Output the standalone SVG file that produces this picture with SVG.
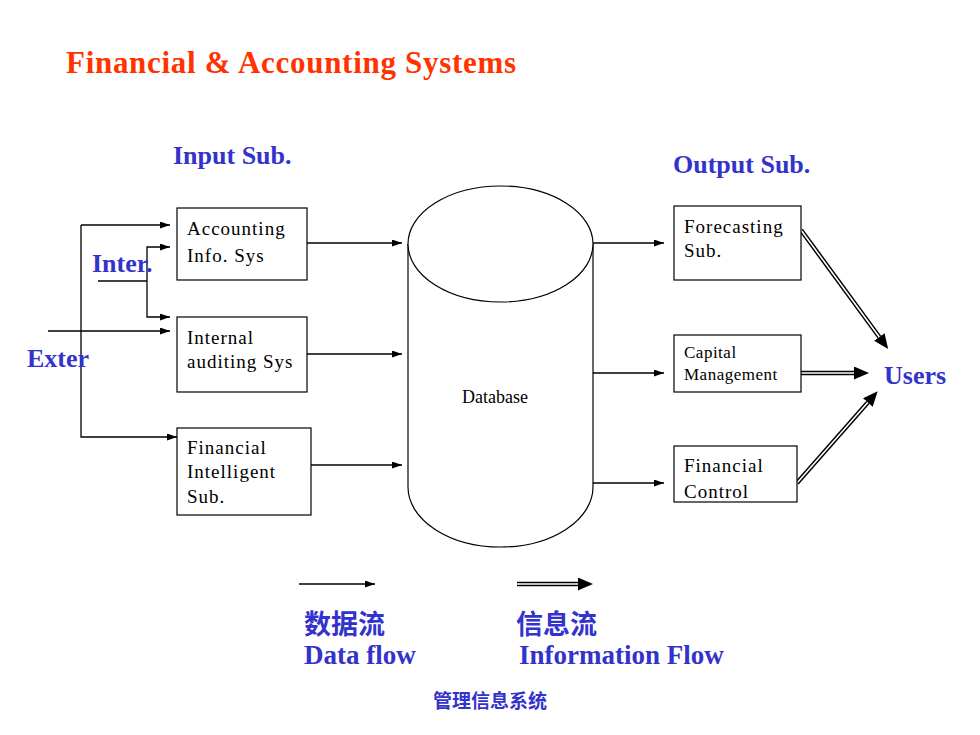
<svg xmlns="http://www.w3.org/2000/svg" width="980" height="735" viewBox="0 0 980 735">
<style>
.box{fill:#fff;stroke:#000;stroke-width:1.2}
.t{font-family:"Liberation Serif","Times New Roman",serif;font-size:19px;letter-spacing:1px;fill:#000}
.ts{font-family:"Liberation Serif","Times New Roman",serif;font-size:17px;letter-spacing:0.5px;fill:#000}
.lbl{font-family:"Liberation Serif","Times New Roman",serif;font-weight:bold;font-size:26px;fill:#3333CC}
.cjk{font-family:"Noto Sans CJK SC",sans-serif;font-weight:bold;fill:#3333CC}
.df{fill:none;stroke:#000;stroke-width:1.3;marker-end:url(#ah)}
.ln{fill:none;stroke:#000;stroke-width:1.3}
.ifo{fill:none;stroke:#000;stroke-width:4.5;marker-end:url(#ah2)}
.ifi{fill:none;stroke:#fff;stroke-width:1.6}
</style>
<defs>
<marker id="ah" markerUnits="userSpaceOnUse" markerWidth="11" markerHeight="8" refX="10" refY="3.5" orient="auto">
<path d="M0,0 L10,3.5 L0,7 z" fill="#000"/>
</marker>
<marker id="ah2" markerUnits="userSpaceOnUse" markerWidth="16" markerHeight="14" refX="0" refY="6.5" orient="auto">
<path d="M0,0 L15,6.5 L0,13 z" fill="#000"/>
</marker>
</defs>
<rect width="980" height="735" fill="#fff"/>
<text x="66" y="73" style="font-family:'Liberation Serif','Times New Roman',serif;font-weight:bold;font-size:31px;letter-spacing:0.7px;fill:#FF3300">Financial &amp; Accounting Systems</text>
<text class="lbl" x="173" y="164">Input Sub.</text>
<text class="lbl" x="673" y="173">Output Sub.</text>

<g id="connectors">
<path class="df" d="M81,225 H170"/>
<path class="df" d="M81,225 V437 H177"/>
<path class="df" d="M48,331 H170"/>
<path class="ln" d="M98,281 H147"/>
<path class="df" d="M147,281 V247 H170"/>
<path class="df" d="M147,281 V317 H170"/>
<path class="df" d="M307,243 H402"/>
<path class="df" d="M307,354 H402"/>
<path class="df" d="M307,465 H402"/>
<path class="df" d="M593,243 H664"/>
<path class="df" d="M593,373 H664"/>
<path class="df" d="M593,483 H664"/>
<path class="ifo" d="M801,230 L879.3,337"/>
<path class="ifi" d="M801,230 L879.3,337"/>
<path class="ifo" d="M801,373 H854"/>
<path class="ifi" d="M801,373 H854"/>
<path class="ifo" d="M797,483 L867.8,402.5"/>
<path class="ifi" d="M797,483 L867.8,402.5"/>
</g>

<g id="exter"><text class="lbl" x="27" y="367">Exter</text></g>
<g id="inter"><text class="lbl" x="92" y="272">Inter.</text></g>

<g id="accounting">
<rect class="box" x="177" y="208" width="130" height="72"/>
<text class="t" x="187" y="235">Accounting</text>
<text class="t" x="187" y="262">Info. Sys</text>
</g>
<g id="internal">
<rect class="box" x="177" y="317" width="130" height="75"/>
<text class="t" x="187" y="344">Internal</text>
<text class="t" x="187" y="368">auditing Sys</text>
</g>
<g id="intelligent">
<rect class="box" x="177" y="428" width="134" height="87"/>
<text class="t" x="187" y="454">Financial</text>
<text class="t" x="187" y="478">Intelligent</text>
<text class="t" x="187" y="503">Sub.</text>
</g>

<g id="database">
<path d="M408,244 V487 A92.5,60 0 0 0 593,487 V244" fill="#fff" stroke="#000" stroke-width="1.2"/>
<ellipse cx="500.5" cy="244" rx="92.5" ry="58" fill="#fff" stroke="#000" stroke-width="1.2"/>
<text x="462" y="403" style="font-family:'Liberation Serif','Times New Roman',serif;font-size:18px;fill:#000">Database</text>
</g>

<g id="forecasting">
<rect class="box" x="674" y="206" width="127" height="74"/>
<text class="t" x="684" y="233">Forecasting</text>
<text class="t" x="684" y="257">Sub.</text>
</g>
<g id="capital">
<rect class="box" x="674" y="335" width="127" height="57"/>
<text class="ts" x="684" y="358">Capital</text>
<text class="ts" x="684" y="380">Management</text>
</g>
<g id="control">
<rect class="box" x="674" y="446" width="123" height="56"/>
<text class="t" x="684" y="472">Financial</text>
<text class="t" x="684" y="498">Control</text>
</g>

<g id="users"><text class="lbl" x="884" y="384">Users</text></g>

<g id="legend">
<path class="df" d="M299,584 H375"/>
<path class="ifo" d="M517,584 H578"/>
<path class="ifi" d="M517,584 H578"/>
<text class="cjk" x="304" y="634" style="font-size:27px">数据流</text>
<text class="cjk" x="516" y="634" style="font-size:27px">信息流</text>
<text x="304" y="664" style="font-family:'Liberation Serif','Times New Roman',serif;font-weight:bold;font-size:27px;fill:#3333CC">Data flow</text>
<text x="519" y="664" style="font-family:'Liberation Serif','Times New Roman',serif;font-weight:bold;font-size:27px;fill:#3333CC">Information Flow</text>
<text class="cjk" x="433" y="708" style="font-size:19px">管理信息系统</text>
</g>
</svg>
